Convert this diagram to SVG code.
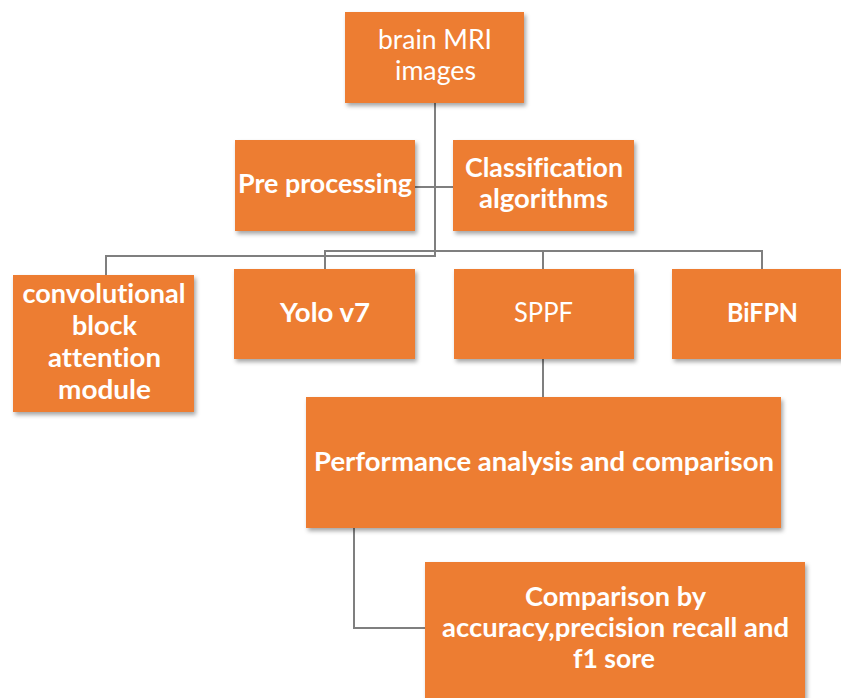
<svg xmlns="http://www.w3.org/2000/svg" width="841" height="698" viewBox="0 0 841 698">
<defs>
<filter id="sh" x="-10%" y="-10%" width="125%" height="130%">
<feDropShadow dx="2" dy="3" stdDeviation="2" flood-color="#000" flood-opacity="0.35"/>
</filter>
</defs>
<style>
.box{fill:#ED7D31;filter:url(#sh)}
.t{font-family:Lato,"Open Sans","Liberation Sans",sans-serif;font-size:26px;fill:#fff;text-anchor:middle;font-variant-ligatures:none}
.b{font-weight:bold}
.c{fill:none;stroke:#7F7F7F;stroke-width:2}
</style>
<rect width="841" height="698" fill="#fff"/>
<g id="connectors">
<path class="c" d="M435 103 V256 H106 V275"/>
<path class="c" d="M415 187 H453"/>
<path class="c" d="M325 269 V251 H762 V269"/>
<path class="c" d="M543 251 V269"/>
<path class="c" d="M543 359 V397"/>
<path class="c" d="M354 528 V628 H425"/>
</g>
<g id="brain">
<rect class="box" x="345" y="12" width="179" height="91"/>
<text class="t" x="435" y="49" textLength="114" lengthAdjust="spacingAndGlyphs">brain MRI</text>
<text class="t" x="435.5" y="80" textLength="81" lengthAdjust="spacingAndGlyphs">images</text>
</g>
<g id="pre">
<rect class="box" x="235" y="140" width="180" height="91"/>
<text class="t b" x="325" y="193" textLength="174" lengthAdjust="spacingAndGlyphs">Pre processing</text>
</g>
<g id="classification">
<rect class="box" x="453" y="140" width="181" height="91"/>
<text class="t b" x="544" y="177" textLength="158" lengthAdjust="spacingAndGlyphs">Classification</text>
<text class="t b" x="543.5" y="208" textLength="129" lengthAdjust="spacingAndGlyphs">algorithms</text>
</g>
<g id="cbam">
<rect class="box" x="13" y="275" width="181" height="137"/>
<text class="t b" x="104" y="303" textLength="163" lengthAdjust="spacingAndGlyphs">convolutional</text>
<text class="t b" x="104.5" y="335" textLength="65" lengthAdjust="spacingAndGlyphs">block</text>
<text class="t b" x="104.5" y="367" textLength="113" lengthAdjust="spacingAndGlyphs">attention</text>
<text class="t b" x="104.5" y="399" textLength="93" lengthAdjust="spacingAndGlyphs">module</text>
</g>
<g id="yolo">
<rect class="box" x="234" y="269" width="181" height="90"/>
<text class="t b" x="325" y="322" textLength="90" lengthAdjust="spacingAndGlyphs">Yolo v7</text>
</g>
<g id="sppf">
<rect class="box" x="454" y="269" width="180" height="90"/>
<text class="t" x="543.5" y="322" textLength="59" lengthAdjust="spacingAndGlyphs">SPPF</text>
</g>
<g id="bifpn">
<rect class="box" x="672" y="269" width="180" height="90"/>
<text class="t b" x="762.5" y="322" textLength="71" lengthAdjust="spacingAndGlyphs">BiFPN</text>
</g>
<g id="performance">
<rect class="box" x="306" y="397" width="475" height="131"/>
<text class="t b" x="544" y="471" textLength="460" lengthAdjust="spacingAndGlyphs">Performance analysis and comparison</text>
</g>
<g id="comparison">
<rect class="box" x="425" y="562" width="380" height="150"/>
<text class="t b" x="615.5" y="606" textLength="181" lengthAdjust="spacingAndGlyphs">Comparison by</text>
<text class="t b" x="615.5" y="637" textLength="347" lengthAdjust="spacingAndGlyphs">accuracy,precision recall and</text>
<text class="t b" x="614" y="668" textLength="82" lengthAdjust="spacingAndGlyphs">f1 sore</text>
</g>
</svg>
